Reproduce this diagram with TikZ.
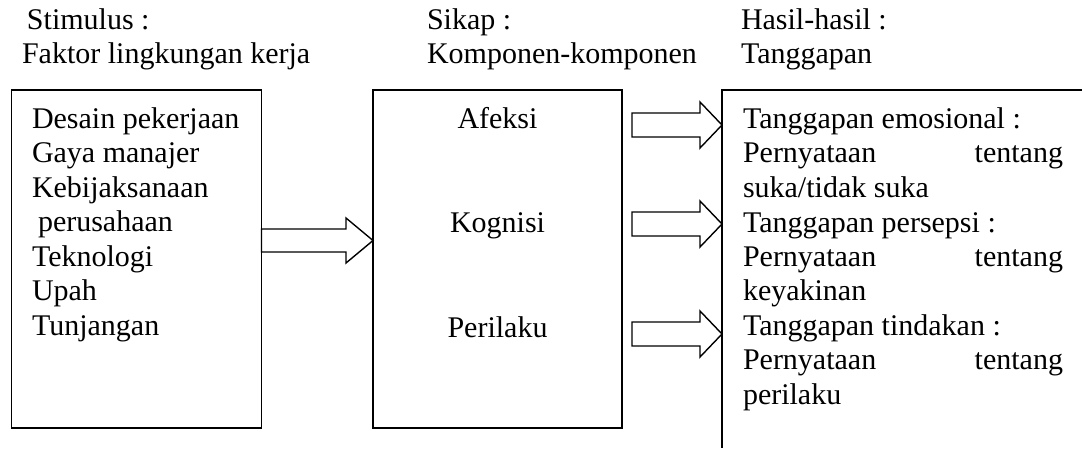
\documentclass[tikz,border=0pt]{standalone}
\usepackage{fontspec}
\setmainfont{Liberation Serif}
\usetikzlibrary{calc}
\tikzset{
  boxnode/.style={draw, line width=1.4pt, inner sep=0pt, outer sep=0pt},
  txt/.style={inner sep=0pt, outer sep=0pt, anchor=base west, font=\fontsize{30}{34.5}\selectfont},
  ctxt/.style={txt, anchor=base},
  arrowline/.style={draw, line width=1.4pt, line join=miter, fill=white}
}
\newcommand\blockarr[5]{%
  \path[arrowline] ($(#1)+(0,#3)$) -- ($(#2)+(-#5,#3)$) -- ($(#2)+(-#5,#4)$) -- (#2)
    -- ($(#2)+(-#5,-#4)$) -- ($(#2)+(-#5,-#3)$) -- ($(#1)+(0,-#3)$) -- cycle;}
\begin{document}
\begin{tikzpicture}[x=1pt,y=1pt]
\useasboundingbox (0,0) rectangle (1082,-448);
% headers
\node[txt] (h1a) at (27,-29) {Stimulus :};
\node[txt] (h1b) at (22,-63.5) {Faktor lingkungan kerja};
\node[txt] (h2a) at (427,-29) {Sikap :};
\node[txt] (h2b) at (427,-63.5) {Komponen-komponen};
\node[txt] (h3a) at (741,-29) {Hasil-hasil :};
\node[txt] (h3b) at (741,-63.5) {Tanggapan};
% boxes
\node[boxnode, minimum width=250pt, minimum height=338pt] (lbox) at (136.5,-259) {};
\node[boxnode, minimum width=249pt, minimum height=338pt] (mbox) at (497.5,-259) {};
\coordinate (rtr) at (1082,-90);
\coordinate (rtl) at (722,-90);
\coordinate (rbl) at (722,-448);
\draw[line width=1.4pt, line join=miter] (rtr) -- (rtl) -- (rbl);
% left box text
\node[txt] (l1) at (32,-128) {Desain pekerjaan};
\node[txt] (l2) at (32,-162.5) {Gaya manajer};
\node[txt] (l3) at (32,-197) {Kebijaksanaan};
\node[txt] (l4) at (38,-231.5) {perusahaan};
\node[txt] (l5) at (32,-266) {Teknologi};
\node[txt] (l6) at (32,-300.5) {Upah};
\node[txt] (l7) at (32,-335) {Tunjangan};
% middle box text
\node[ctxt] (m1) at (497.5,-128) {Afeksi};
\node[ctxt] (m2) at (497.5,-232) {Kognisi};
\node[ctxt] (m3) at (497.5,-337) {Perilaku};
% right box text
\node[txt] (r1) at (743,-128) {Tanggapan emosional :};
\node[txt] (r2) at (743,-162.5) {\hbox to 320pt{Pernyataan\hfill tentang}};
\node[txt] (r3) at (743,-197) {suka/tidak suka};
\node[txt] (r4) at (743,-232) {Tanggapan persepsi :};
\node[txt] (r5) at (743,-266) {\hbox to 320pt{Pernyataan\hfill tentang}};
\node[txt] (r6) at (743,-300.5) {keyakinan};
\node[txt] (r7) at (743,-335) {Tanggapan tindakan :};
\node[txt] (r8) at (743,-369.5) {\hbox to 320pt{Pernyataan\hfill tentang}};
\node[txt] (r9) at (743,-404) {perilaku};
% arrows
\coordinate (a0s) at (lbox.east |- 0,-240.5);
\coordinate (a0t) at (mbox.west |- 0,-240.5);
\blockarr{a0s}{a0t}{11.5}{22.5}{27}
\coordinate (a1s) at (632,-125);
\coordinate (a1t) at (rtl |- 0,-125);
\blockarr{a1s}{a1t}{12}{23}{22}
\coordinate (a2s) at (632,-224);
\coordinate (a2t) at (rtl |- 0,-224);
\blockarr{a2s}{a2t}{12}{23}{22}
\coordinate (a3s) at (632,-334);
\coordinate (a3t) at (rtl |- 0,-334);
\blockarr{a3s}{a3t}{12}{23}{22}
\end{tikzpicture}
\end{document}
